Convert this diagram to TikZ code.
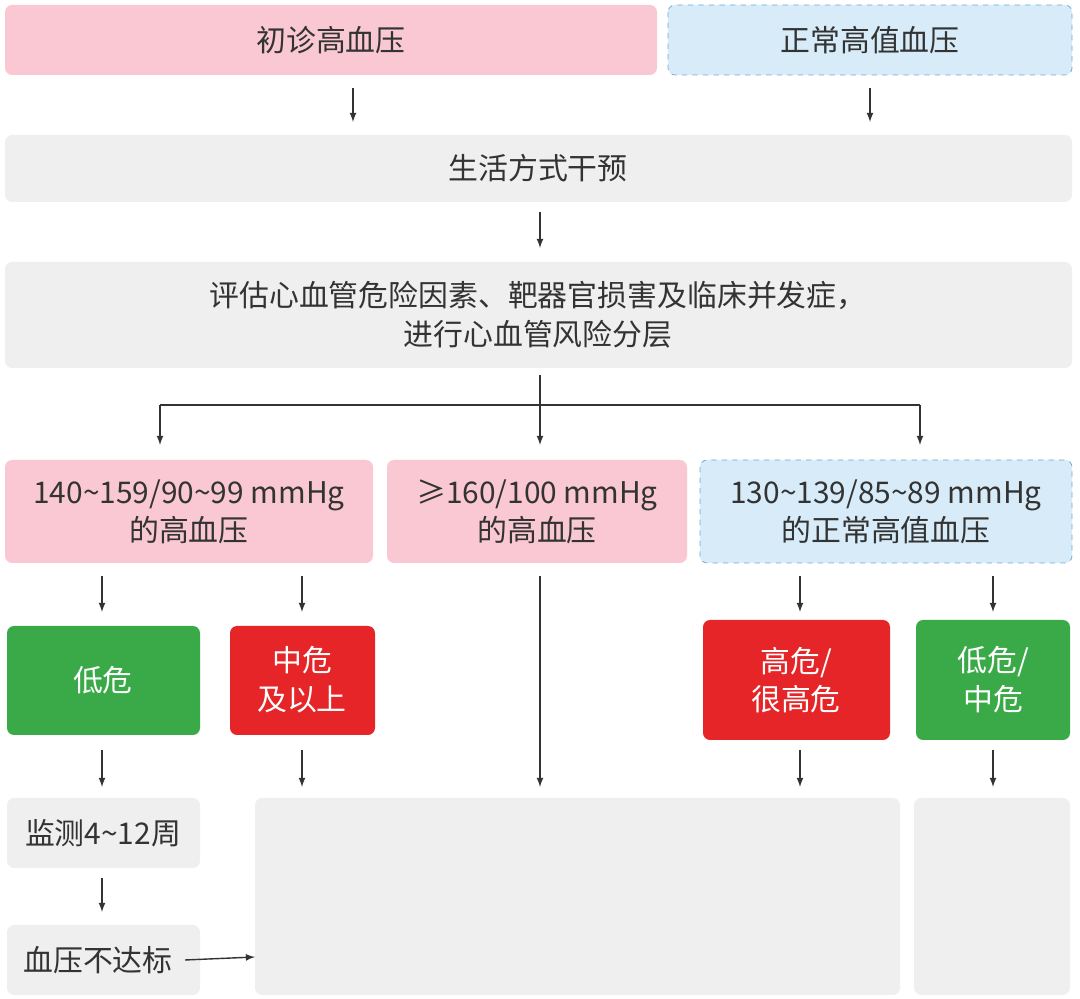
\documentclass[tikz,border=0pt]{standalone}
\usepackage{fontspec}
\setmainfont{Noto Sans CJK SC}
\usetikzlibrary{positioning}
\definecolor{pinkfill}{HTML}{F9C8D3}
\definecolor{bluefill}{HTML}{D7ECF8}
\definecolor{blueline}{HTML}{6FA6D2}
\definecolor{grayfill}{HTML}{EFEFEF}
\definecolor{greenfill}{HTML}{3AAA48}
\definecolor{redfill}{HTML}{E52527}
\definecolor{textgray}{HTML}{333333}

\begin{document}
\begin{tikzpicture}[x=0.02cm, y=-0.02cm,
    font=\fontsize{17}{22}\selectfont, text=textgray, >=latex]

        % Setup the styles for the boxes
        \tikzset{box/.style={rounded corners=4pt},
                 pinkbox/.style={box, fill=pinkfill},
                 bluebox/.style={box, fill=bluefill, draw=blueline, dashed},
                 graybox/.style={box, fill=grayfill},
                 greenbox/.style={box, fill=greenfill},
                 redbox/.style={box, fill=redfill},
                 label text/.style={align=center, inner sep=0pt},
                 white text/.style={label text, text=white},
                 arr/.style={->, thick, black!80}}

        \useasboundingbox (0,0) rectangle (1080,999);

        % Draw the boxes
        \path[pinkbox] (5,5) rectangle (657,75);
        \node[label text] (first) at (331,40) {初诊高血压};
        \path[bluebox] (668,5) rectangle (1072,75);
        \node[label text] (normal) at (870,40) {正常高值血压};
        \path[graybox] (5,135) rectangle (1072,202);
        \node[label text] (life) at (538,168) {生活方式干预};
        \path[graybox] (5,262) rectangle (1072,368);
        \node[label text] (assess) at (538,315) {评估心血管危险因素、靶器官损害及临床并发症，\\进行心血管风险分层};
        \path[pinkbox] (5,460) rectangle (373,563);
        \node[label text] (gradeA) at (189,512) {140\textasciitilde159/90\textasciitilde99 mmHg\\的高血压};
        \path[pinkbox] (387,460) rectangle (687,563);
        \node[label text] (gradeB) at (537,512) {≥160/100 mmHg\\的高血压};
        \path[bluebox] (700,460) rectangle (1072,563);
        \node[label text] (gradeC) at (886,512) {130\textasciitilde139/85\textasciitilde89 mmHg\\的正常高值血压};
        \path[greenbox] (7,626) rectangle (200,735);
        \node[white text] (lowA) at (103,680) {低危};
        \path[redbox] (230,626) rectangle (375,735);
        \node[white text] (midA) at (302,680) {中危\\及以上};
        \path[redbox] (703,620) rectangle (890,740);
        \node[white text] (highC) at (796,680) {高危/\\很高危};
        \path[greenbox] (916,620) rectangle (1070,740);
        \node[white text] (lowC) at (993,680) {低危/\\中危};
        \path[graybox] (7,798) rectangle (200,868);
        \node[label text] (monitor) at (103,833) {监测4\textasciitilde12周};
        \path[graybox] (7,925) rectangle (200,995);
        \node[label text] (fail) at (98,960) {血压不达标};
        \path[graybox] (255,798) rectangle (900,995);
        \coordinate (drug) at (255,957);
        \path[graybox] (914,798) rectangle (1070,995);

        % Connect the boxes with arrows
        \draw[arr] (353,88) -- (353,122);
        \draw[arr] (870,88) -- (870,122);
        \draw[arr] (540,212) -- (540,248);
        \draw[thick, black!80] (540,375) -- (540,405) (160,405) -- (920,405);
        \foreach \x in {160,540,920}
            \draw[arr] (\x,405) -- (\x,445);
        \foreach \x in {102,302,800,993}
            \draw[arr] (\x,576) -- (\x,612);
        \draw[arr] (540,576) -- (540,787);
        \foreach \x in {102,302,800,993}
            \draw[arr] (\x,750) -- (\x,787);
        \draw[arr] (102,878) -- (102,912);
        \draw[arr] (fail.east) ++(12,0) -- (drug);
\end{tikzpicture}
\end{document}
